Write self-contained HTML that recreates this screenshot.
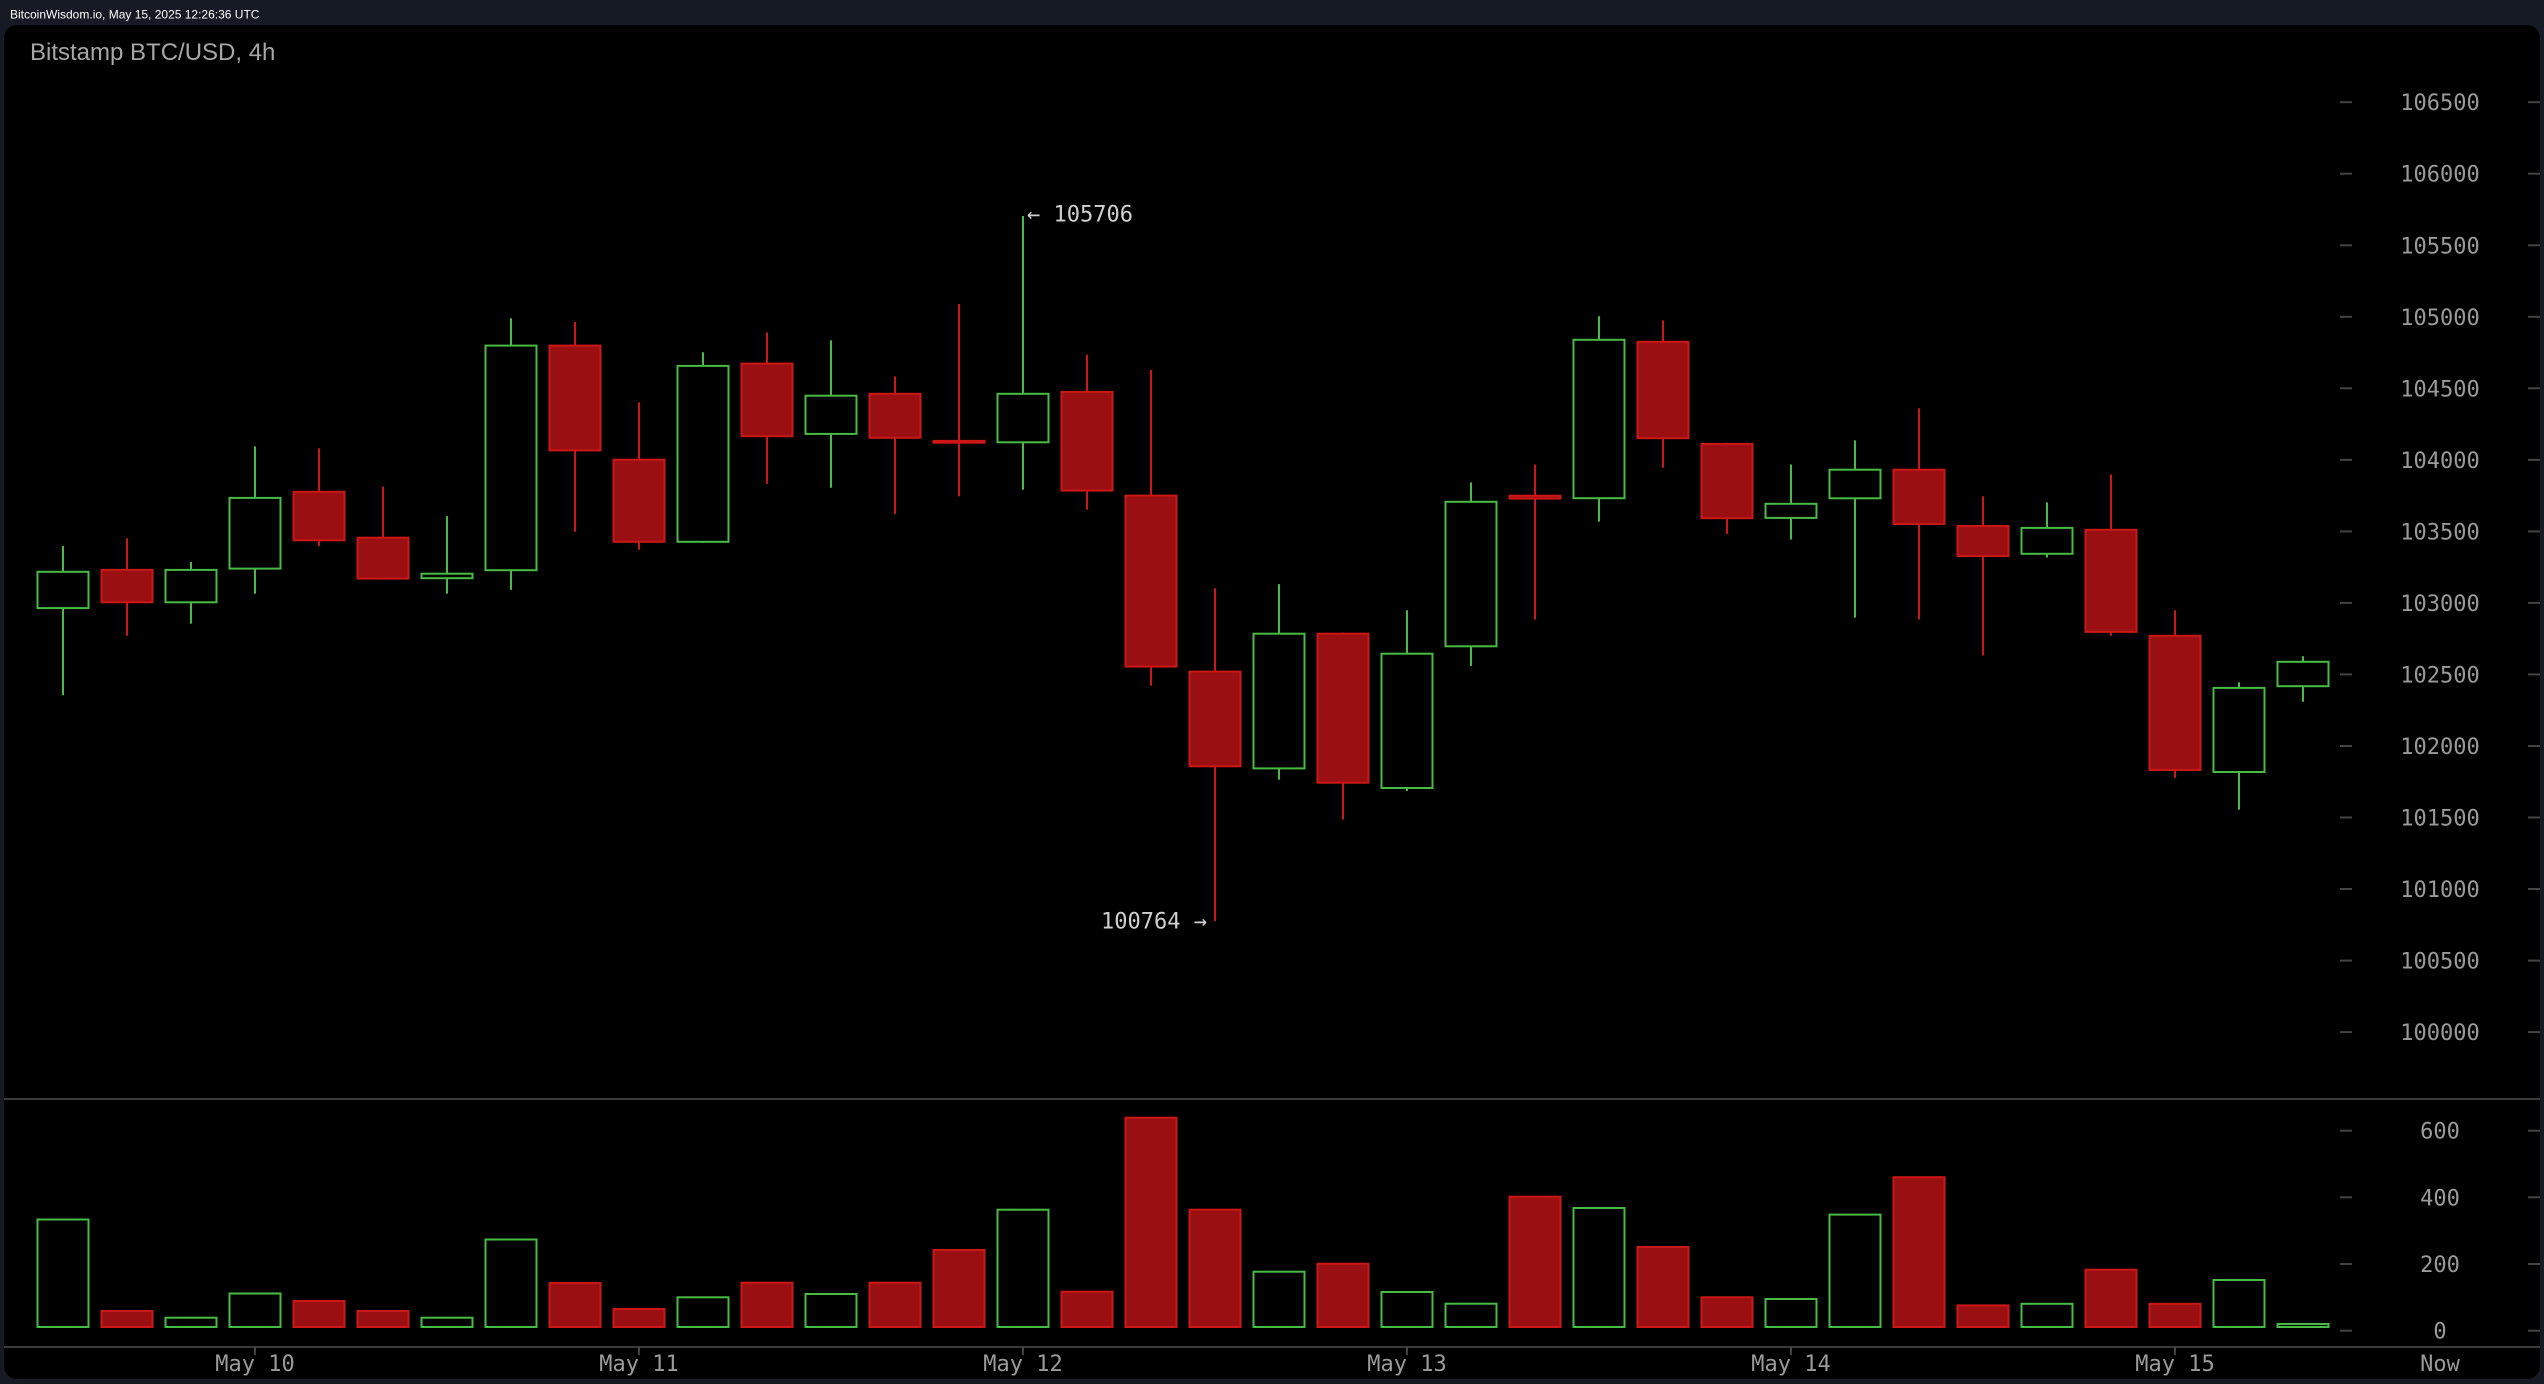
<!DOCTYPE html>
<html><head><meta charset="utf-8"><style>
html,body{margin:0;padding:0;background:#151a24;}
svg{display:block;}
</style></head><body>
<svg width="2544" height="1384" viewBox="0 0 2544 1384" xmlns="http://www.w3.org/2000/svg">
<rect x="0" y="0" width="2544" height="1384" fill="#151a24"/>
<text x="10" y="18.5" font-family="Liberation Sans, Arial, sans-serif" font-size="12" fill="#ffffff">BitcoinWisdom.io, May 15, 2025 12:26:36 UTC</text>
<rect x="4" y="25" width="2536" height="1354" rx="13" ry="13" fill="#000"/>
<text x="30" y="60" font-family="Liberation Sans, Arial, sans-serif" font-size="24" fill="#a6a6a6">Bitstamp BTC/USD, 4h</text>

<!-- separators -->
<rect x="4" y="1098" width="2536" height="2" fill="#3a3a3a"/>
<rect x="4" y="1346" width="2536" height="2" fill="#3a3a3a"/>

<!-- price axis ticks & labels -->
<g stroke="#444" stroke-width="2">
<line x1="2340" x2="2352" y1="102.2" y2="102.2"/><line x1="2528" x2="2540" y1="102.2" y2="102.2"/>
<line x1="2340" x2="2352" y1="173.7" y2="173.7"/><line x1="2528" x2="2540" y1="173.7" y2="173.7"/>
<line x1="2340" x2="2352" y1="245.3" y2="245.3"/><line x1="2528" x2="2540" y1="245.3" y2="245.3"/>
<line x1="2340" x2="2352" y1="316.8" y2="316.8"/><line x1="2528" x2="2540" y1="316.8" y2="316.8"/>
<line x1="2340" x2="2352" y1="388.3" y2="388.3"/><line x1="2528" x2="2540" y1="388.3" y2="388.3"/>
<line x1="2340" x2="2352" y1="459.9" y2="459.9"/><line x1="2528" x2="2540" y1="459.9" y2="459.9"/>
<line x1="2340" x2="2352" y1="531.4" y2="531.4"/><line x1="2528" x2="2540" y1="531.4" y2="531.4"/>
<line x1="2340" x2="2352" y1="602.9" y2="602.9"/><line x1="2528" x2="2540" y1="602.9" y2="602.9"/>
<line x1="2340" x2="2352" y1="674.4" y2="674.4"/><line x1="2528" x2="2540" y1="674.4" y2="674.4"/>
<line x1="2340" x2="2352" y1="746" y2="746"/><line x1="2528" x2="2540" y1="746" y2="746"/>
<line x1="2340" x2="2352" y1="817.5" y2="817.5"/><line x1="2528" x2="2540" y1="817.5" y2="817.5"/>
<line x1="2340" x2="2352" y1="889" y2="889"/><line x1="2528" x2="2540" y1="889" y2="889"/>
<line x1="2340" x2="2352" y1="960.6" y2="960.6"/><line x1="2528" x2="2540" y1="960.6" y2="960.6"/>
<line x1="2340" x2="2352" y1="1032.1" y2="1032.1"/><line x1="2528" x2="2540" y1="1032.1" y2="1032.1"/>
<line x1="2340" x2="2352" y1="1130.7" y2="1130.7"/><line x1="2528" x2="2540" y1="1130.7" y2="1130.7"/>
<line x1="2340" x2="2352" y1="1197.3" y2="1197.3"/><line x1="2528" x2="2540" y1="1197.3" y2="1197.3"/>
<line x1="2340" x2="2352" y1="1264" y2="1264"/><line x1="2528" x2="2540" y1="1264" y2="1264"/>
<line x1="2340" x2="2352" y1="1330.7" y2="1330.7"/><line x1="2528" x2="2540" y1="1330.7" y2="1330.7"/>
<line x1="255" x2="255" y1="1347" y2="1355"/>
<line x1="639" x2="639" y1="1347" y2="1355"/>
<line x1="1023" x2="1023" y1="1347" y2="1355"/>
<line x1="1407" x2="1407" y1="1347" y2="1355"/>
<line x1="1791" x2="1791" y1="1347" y2="1355"/>
<line x1="2175" x2="2175" y1="1347" y2="1355"/>
</g>
<g font-family="DejaVu Sans Mono, Liberation Mono, monospace" font-size="22" fill="#9a9a9a" text-anchor="middle">
<text x="2440" y="110.2">106500</text>
<text x="2440" y="181.7">106000</text>
<text x="2440" y="253.3">105500</text>
<text x="2440" y="324.8">105000</text>
<text x="2440" y="396.3">104500</text>
<text x="2440" y="467.9">104000</text>
<text x="2440" y="539.4">103500</text>
<text x="2440" y="610.9">103000</text>
<text x="2440" y="682.4">102500</text>
<text x="2440" y="754">102000</text>
<text x="2440" y="825.5">101500</text>
<text x="2440" y="897">101000</text>
<text x="2440" y="968.6">100500</text>
<text x="2440" y="1040.1">100000</text>
<text x="2440" y="1138.7">600</text>
<text x="2440" y="1205.3">400</text>
<text x="2440" y="1272">200</text>
<text x="2440" y="1338.7">0</text>
<text x="255" y="1371">May 10</text>
<text x="639" y="1371">May 11</text>
<text x="1023" y="1371">May 12</text>
<text x="1407" y="1371">May 13</text>
<text x="1791" y="1371">May 14</text>
<text x="2175" y="1371">May 15</text>
<text x="2440" y="1371">Now</text>
</g>

<!-- candles -->
<g stroke-width="2">
<g stroke="#47bb44" fill="#000">
<line x1="63" x2="63" y1="545.9" y2="695.2"/><rect x="37.5" y="571.8" width="51" height="36.3"/>
<line x1="191" x2="191" y1="562" y2="623.6"/><rect x="165.5" y="569.9" width="51" height="32.4"/>
<line x1="255" x2="255" y1="446.4" y2="593.7"/><rect x="229.5" y="497.9" width="51" height="70.7"/>
<line x1="447" x2="447" y1="516.1" y2="593.7"/><rect x="421.5" y="573.7" width="51" height="4.5"/>
<line x1="511" x2="511" y1="318.2" y2="589.9"/><rect x="485.5" y="345.6" width="51" height="224.6"/>
<line x1="703" x2="703" y1="352.3" y2="542.8"/><rect x="677.5" y="365.9" width="51" height="175.9"/>
<line x1="831" x2="831" y1="340.4" y2="487.7"/><rect x="805.5" y="395.7" width="51" height="38.2"/>
<line x1="1023" x2="1023" y1="216" y2="489.7"/><rect x="997.5" y="393.8" width="51" height="48.5"/>
<line x1="1279" x2="1279" y1="584.1" y2="779.6"/><rect x="1253.5" y="633.7" width="51" height="134.7"/>
<line x1="1407" x2="1407" y1="610.2" y2="791"/><rect x="1381.5" y="653.7" width="51" height="134.3"/>
<line x1="1471" x2="1471" y1="482.4" y2="666"/><rect x="1445.5" y="501.8" width="51" height="144.5"/>
<line x1="1599" x2="1599" y1="316.3" y2="521.6"/><rect x="1573.5" y="339.8" width="51" height="158.4"/>
<line x1="1791" x2="1791" y1="464.5" y2="539.5"/><rect x="1765.5" y="503.8" width="51" height="14.1"/>
<line x1="1855" x2="1855" y1="440.4" y2="617.6"/><rect x="1829.5" y="469.7" width="51" height="28.6"/>
<line x1="2047" x2="2047" y1="502.4" y2="557.5"/><rect x="2021.5" y="527.9" width="51" height="25.9"/>
<line x1="2239" x2="2239" y1="682.3" y2="809.7"/><rect x="2213.5" y="687.9" width="51" height="84.1"/>
<line x1="2303" x2="2303" y1="656.2" y2="701.8"/><rect x="2277.5" y="661.8" width="51" height="24.4"/>
</g>
<g stroke="#cc1717" fill="#990f12">
<line x1="127" x2="127" y1="538.3" y2="635.8"/><rect x="101.5" y="569.9" width="51" height="32.4"/>
<line x1="319" x2="319" y1="448.3" y2="545.9"/><rect x="293.5" y="491.8" width="51" height="48.5"/>
<line x1="383" x2="383" y1="486.6" y2="579.6"/><rect x="357.5" y="537.7" width="51" height="40.9"/>
<line x1="575" x2="575" y1="322" y2="531.8"/><rect x="549.5" y="345.6" width="51" height="104.8"/>
<line x1="639" x2="639" y1="402.4" y2="549.7"/><rect x="613.5" y="459.7" width="51" height="82.1"/>
<line x1="767" x2="767" y1="332.4" y2="483.9"/><rect x="741.5" y="363.6" width="51" height="72.6"/>
<line x1="895" x2="895" y1="376.4" y2="514.1"/><rect x="869.5" y="393.8" width="51" height="44"/>
<line x1="959" x2="959" y1="304" y2="496.2"/><rect x="933.5" y="440.9" width="51" height="1.8"/>
<line x1="1087" x2="1087" y1="354.6" y2="509.6"/><rect x="1061.5" y="391.9" width="51" height="98.7"/>
<line x1="1151" x2="1151" y1="369.9" y2="685.6"/><rect x="1125.5" y="495.6" width="51" height="171"/>
<line x1="1215" x2="1215" y1="588.2" y2="921.2"/><rect x="1189.5" y="671.6" width="51" height="94.7"/>
<line x1="1343" x2="1343" y1="632.7" y2="819.6"/><rect x="1317.5" y="633.7" width="51" height="149"/>
<line x1="1535" x2="1535" y1="464.5" y2="619.6"/><rect x="1509.5" y="495.7" width="51" height="2.9"/>
<line x1="1663" x2="1663" y1="320.4" y2="467.8"/><rect x="1637.5" y="341.8" width="51" height="96.4"/>
<line x1="1727" x2="1727" y1="442.9" y2="533.9"/><rect x="1701.5" y="443.9" width="51" height="74.3"/>
<line x1="1919" x2="1919" y1="408.3" y2="619.5"/><rect x="1893.5" y="469.7" width="51" height="54.3"/>
<line x1="1983" x2="1983" y1="496.3" y2="655.5"/><rect x="1957.5" y="526" width="51" height="30.1"/>
<line x1="2111" x2="2111" y1="474.5" y2="635.6"/><rect x="2085.5" y="529.8" width="51" height="102.1"/>
<line x1="2175" x2="2175" y1="610.3" y2="777.9"/><rect x="2149.5" y="635.8" width="51" height="134.2"/>
</g>

<!-- volume -->
<g stroke="#47bb44" fill="#000">
<rect x="37.5" y="1219.5" width="51" height="107.5"/>
<rect x="165.5" y="1317.7" width="51" height="9.3"/>
<rect x="229.5" y="1293.5" width="51" height="33.5"/>
<rect x="421.5" y="1317.7" width="51" height="9.3"/>
<rect x="485.5" y="1239.5" width="51" height="87.5"/>
<rect x="677.5" y="1297.3" width="51" height="29.7"/>
<rect x="805.5" y="1294" width="51" height="33"/>
<rect x="997.5" y="1209.7" width="51" height="117.3"/>
<rect x="1253.5" y="1271.7" width="51" height="55.3"/>
<rect x="1381.5" y="1292" width="51" height="35"/>
<rect x="1445.5" y="1303.7" width="51" height="23.3"/>
<rect x="1573.5" y="1208" width="51" height="119"/>
<rect x="1765.5" y="1299" width="51" height="28"/>
<rect x="1829.5" y="1214.6" width="51" height="112.4"/>
<rect x="2021.5" y="1303.8" width="51" height="23.2"/>
<rect x="2213.5" y="1280" width="51" height="47"/>
<rect x="2277.5" y="1324" width="51" height="3"/>
</g>
<g stroke="#cc1717" fill="#990f12">
<rect x="101.5" y="1311" width="51" height="16"/>
<rect x="293.5" y="1301" width="51" height="26"/>
<rect x="357.5" y="1311" width="51" height="16"/>
<rect x="549.5" y="1283" width="51" height="44"/>
<rect x="613.5" y="1309" width="51" height="18"/>
<rect x="741.5" y="1282.7" width="51" height="44.3"/>
<rect x="869.5" y="1282.7" width="51" height="44.3"/>
<rect x="933.5" y="1250" width="51" height="77"/>
<rect x="1061.5" y="1291.7" width="51" height="35.3"/>
<rect x="1125.5" y="1117.7" width="51" height="209.3"/>
<rect x="1189.5" y="1209.7" width="51" height="117.3"/>
<rect x="1317.5" y="1263.7" width="51" height="63.3"/>
<rect x="1509.5" y="1196.7" width="51" height="130.3"/>
<rect x="1637.5" y="1247" width="51" height="80"/>
<rect x="1701.5" y="1297.3" width="51" height="29.7"/>
<rect x="1893.5" y="1177.2" width="51" height="149.8"/>
<rect x="1957.5" y="1305.4" width="51" height="21.6"/>
<rect x="2085.5" y="1269.7" width="51" height="57.3"/>
<rect x="2149.5" y="1303.8" width="51" height="23.2"/>
</g>
</g>

<!-- annotations -->
<g font-family="DejaVu Sans Mono, Liberation Mono, monospace" font-size="22" fill="#d0d0d0">
<text x="1027" y="221.7">← 105706</text>
<text x="1101" y="928.7">100764 →</text>
</g>
</svg>
</body></html>
